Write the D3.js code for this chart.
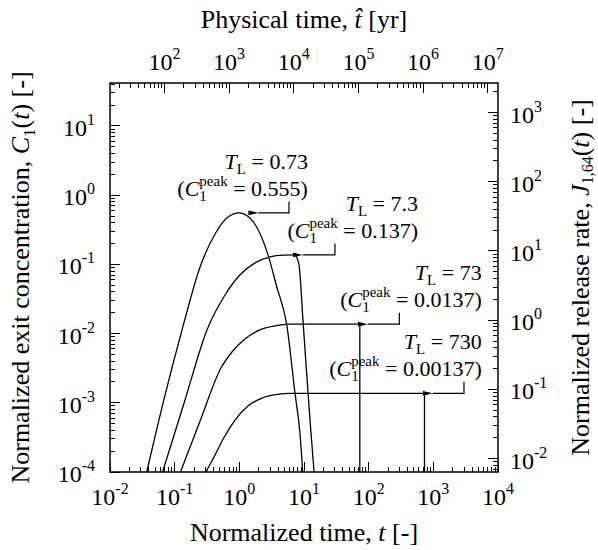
<!DOCTYPE html>
<html>
<head>
<meta charset="utf-8">
<style>
    body { margin: 0; background: #fff; }
    svg text { font-family: "Liberation Serif", "Times New Roman", serif; fill: #000; }
    .frame { fill: none; stroke: #000; stroke-width: 1.5px; }
    .tk { stroke: #000; stroke-width: 1px; shape-rendering: crispEdges; }
    .curve { fill: none; stroke: #000; stroke-width: 1.3px; }
    .arrow { fill: none; stroke: #000; stroke-width: 1.2px; }
</style>
</head>
<body>
<svg class="vis"></svg>
<script src="https://cdn.jsdelivr.net/npm/d3@7"></script>
<script>
// curve data (normalized time t, exit concentration C1)
var c1T = [0.037, 0.068, 0.13, 0.247, 0.421, 0.668, 1.0, 1.64, 2.8, 3.78, 5.4, 7.26, 8.67, 9.55];
var c1C = [1e-4, 0.0011, 0.0113, 0.0916, 0.275, 0.484, 0.555, 0.414, 0.134, 0.0477, 0.0136, 0.00137, 0.00036, 1e-4];

var c2T = [0.065, 0.1445, 0.316, 0.6, 1.02, 1.75, 2.98, 4.73, 7.3, 7.8, 8.45, 9.64, 10.9, 12.4, 14.3];
var c2C = [1e-4, 0.0011, 0.0113, 0.0361, 0.0703, 0.105, 0.128, 0.136, 0.137, 0.124, 0.0927, 0.0157, 0.00298, 0.00056, 1e-4];

var c3T = [0.123, 0.247, 0.52, 0.769, 1.22, 2.08, 3.56, 6.07, 73, 73];
var c3C = [1e-4, 0.000546, 0.00318, 0.00542, 0.00836, 0.0113, 0.0129, 0.0137, 0.0137, 1e-4];

var c4T = [0.305, 0.421, 0.579, 0.857, 1.36, 2.24, 3.82, 6.07, 730, 730];
var c4C = [1e-4, 0.000176, 0.000315, 0.000563, 0.0009, 0.00117, 0.00132, 0.00137, 0.00137, 1e-4];

// vertical drop at the end of the curve?
var curveDrop = [false, false, true, true];

// annotations
var tlLabels = ["0.73", "7.3", "73", "730"];
var peakLabels = ["0.555", "0.137", "0.0137", "0.00137"];
var peakValues = [0.555, 0.137, 0.0137, 0.00137];
var annTextT = [11.5, 579, 5600, 5600];   // right end of the label text
var arrowTipT = [1.9, 9.2, 93, 942];
var arrowStemT = [5.86, 30.1, 298, 2978];

// axes
var xExps = [-2, -1, 0, 1, 2, 3, 4];
var yExps = [-4, -3, -2, -1, 0, 1];
var jExps = [-2, -1, 0, 1, 2, 3];
var topExps = [2, 3, 4, 5, 6, 7];
var J_FACTOR = 64;          // J_1,64 = 64 * C1
var YEAR_FACTOR = 1440;     // physical time per unit normalized time

var width = 598, height = 550;
var P = {left: 110, right: 498, top: 83, bottom: 472};
var FONT_TICK = 24, FONT_TITLE = 26, FONT_ANN = 22;

var vis = d3.select("svg.vis").attr("width", width).attr("height", height);

var x = d3.scaleLog().domain([1e-2, 1e4]).range([P.left, P.right]);
var y = d3.scaleLog().domain([1e-4, 41.8]).range([P.bottom, P.top]);
var yJ = d3.scaleLog().domain(y.domain().map(function(v){ return v * J_FACTOR; })).range(y.range());
var xT = d3.scaleLog().domain(x.domain().map(function(v){ return v * YEAR_FACTOR; })).range(x.range());

function logTicks(scale){
    var d = scale.domain(), out = [];
    var lo = Math.floor(Math.log10(d[0])), hi = Math.ceil(Math.log10(d[1]));
    for (var e = lo; e <= hi; e++){
        for (var m = 1; m <= 9; m++){
            var v = m * Math.pow(10, e);
            if (v >= d[0] * 0.999 && v <= d[1] * 1.001) out.push({v: v, major: m === 1});
        }
    }
    return out;
}

var MAJ = 10, MIN = 5;
var gt = vis.append("g");

// bottom + top (inward)
logTicks(x).forEach(function(t){
    var px = x(t.v), L = t.major ? MAJ : MIN;
    gt.append("line").attr("class", "tk").attr("x1", px).attr("x2", px)
        .attr("y1", P.bottom).attr("y2", P.bottom - L);
});
logTicks(xT).forEach(function(t){
    var px = xT(t.v), L = t.major ? MAJ : MIN;
    gt.append("line").attr("class", "tk").attr("x1", px).attr("x2", px)
        .attr("y1", P.top).attr("y2", P.top + L);
});
logTicks(y).forEach(function(t){
    var py = y(t.v), L = t.major ? MAJ : MIN;
    gt.append("line").attr("class", "tk").attr("y1", py).attr("y2", py)
        .attr("x1", P.left).attr("x2", P.left + L);
});
logTicks(yJ).forEach(function(t){
    var py = yJ(t.v), L = t.major ? MAJ : MIN;
    gt.append("line").attr("class", "tk").attr("y1", py).attr("y2", py)
        .attr("x1", P.right).attr("x2", P.right - L);
});

function powLabel(g, px, py, e, anchor){
    var t = g.append("text").attr("x", px).attr("y", py)
        .attr("text-anchor", anchor).attr("font-size", FONT_TICK);
    t.append("tspan").text("10");
    t.append("tspan").attr("dy", -11).attr("font-size", 16).text(e);
    return t;
}

var gl = vis.append("g");
xExps.forEach(function(e){ powLabel(gl, x(Math.pow(10, e)), 505, e, "middle"); });
topExps.forEach(function(e){ powLabel(gl, xT(Math.pow(10, e)), 70, e, "middle"); });
yExps.forEach(function(e){ powLabel(gl, 95, y(Math.pow(10, e)) + 10, e, "end"); });
jExps.forEach(function(e){ powLabel(gl, 510, yJ(Math.pow(10, e)) + 10, e, "start"); });

// axis titles
var cx = (P.left + P.right) / 2, cy = (P.top + P.bottom) / 2;

var bt = vis.append("text").attr("x", cx).attr("y", 541).attr("text-anchor", "middle").attr("font-size", FONT_TITLE);
bt.append("tspan").text("Normalized time, ");
bt.append("tspan").attr("font-style", "italic").text("t");
bt.append("tspan").text(" [-]");

var tt = vis.append("text").attr("x", cx).attr("y", 28).attr("text-anchor", "middle").attr("font-size", FONT_TITLE);
tt.append("tspan").text("Physical time, ");
tt.append("tspan").attr("font-style", "italic").text("t\u0302");
tt.append("tspan").text(" [yr]");

var lt = vis.append("text").attr("transform", "translate(29," + cy + ") rotate(-90)")
    .attr("text-anchor", "middle").attr("font-size", FONT_TITLE);
lt.append("tspan").text("Normalized exit concentration, ");
lt.append("tspan").attr("font-style", "italic").text("C");
lt.append("tspan").attr("font-size", 17).attr("dy", 6).text("1");
lt.append("tspan").attr("dy", -6).text("(");
lt.append("tspan").attr("font-style", "italic").text("t");
lt.append("tspan").text(") [-]");

var rt = vis.append("text").attr("transform", "translate(589," + cy + ") rotate(-90)")
    .attr("text-anchor", "middle").attr("font-size", FONT_TITLE);
rt.append("tspan").text("Normalized release rate, ");
rt.append("tspan").attr("font-style", "italic").text("J");
rt.append("tspan").attr("font-size", 16).attr("dy", 4).text("1,64");
rt.append("tspan").attr("dy", -4).text("(");
rt.append("tspan").attr("font-style", "italic").text("t");
rt.append("tspan").text(") [-]");

// curves
vis.append("clipPath").attr("id", "clip").append("rect")
    .attr("x", P.left).attr("y", P.top).attr("width", P.right - P.left).attr("height", P.bottom - P.top);

var smooth = d3.line().x(function(d){ return x(d[0]); }).y(function(d){ return y(d[1]); }).curve(d3.curveMonotoneX);
var curves = [[c1T, c1C], [c2T, c2C], [c3T, c3C], [c4T, c4C]];
var gc = vis.append("g").attr("clip-path", "url(#clip)");
curves.forEach(function(c, i){
    var pts = c[0].map(function(t, k){ return [t, c[1][k]]; });
    var path;
    if (curveDrop[i]){
        var last = pts.pop();
        path = smooth(pts) + "L" + x(last[0]) + "," + y(last[1]);
    } else {
        path = smooth(pts);
    }
    gc.append("path").attr("class", "curve").attr("d", path);
});

// annotations
vis.append("defs").append("marker").attr("id", "head")
    .attr("viewBox", "0 0 10 6").attr("refX", 0).attr("refY", 3)
    .attr("markerWidth", 10).attr("markerHeight", 6).attr("markerUnits", "userSpaceOnUse")
    .attr("orient", "auto-start-reverse")
    .append("path").attr("d", "M0,3 L10,0.6 L10,5.4 Z").attr("fill", "#000");

var ga = vis.append("g");
tlLabels.forEach(function(lbl, i){
    var ay = y(peakValues[i]);
    var tx = x(annTextT[i]);
    ga.append("path").attr("class", "arrow").attr("marker-end", "url(#head)")
        .attr("d", "M" + x(arrowStemT[i]) + "," + (ay - 11.5) + "V" + ay + "H" + (x(arrowTipT[i]) + 1));

    var l1 = ga.append("text").attr("x", tx).attr("y", ay - 44).attr("text-anchor", "end").attr("font-size", FONT_ANN);
    l1.append("tspan").attr("font-style", "italic").text("T");
    l1.append("tspan").attr("font-size", 15).attr("dy", 5).text("L");
    l1.append("tspan").attr("dy", -5).text(" = " + lbl);

    var l2 = ga.append("text").attr("x", tx).attr("y", ay - 17).attr("text-anchor", "end").attr("font-size", FONT_ANN);
    l2.append("tspan").text("(");
    l2.append("tspan").attr("font-style", "italic").text("C");
    l2.append("tspan").attr("font-size", 15).attr("dy", 5).text("1");
    l2.append("tspan").attr("font-size", 15).attr("dx", -7.5).attr("dy", -15).text("peak");
    l2.append("tspan").attr("dy", 10).text(" = " + peakLabels[i] + ")");
});

vis.append("rect").attr("class", "frame")
    .attr("x", P.left).attr("y", P.top).attr("width", P.right - P.left).attr("height", P.bottom - P.top);
</script>
</body>
</html>
